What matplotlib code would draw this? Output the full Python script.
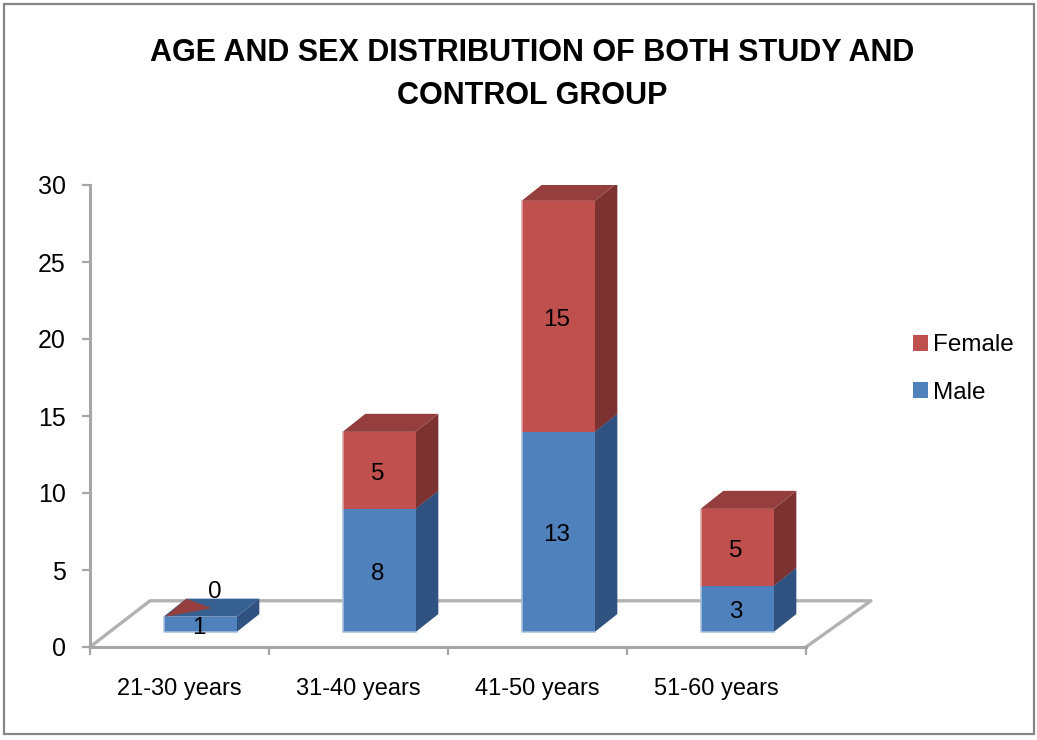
import matplotlib.pyplot as plt
from matplotlib.lines import Line2D
from matplotlib.patches import Patch, Polygon, Rectangle

plt.rcParams["font.family"] = ["Liberation Sans", "DejaVu Sans"]

age_groups = ["21-30 years", "31-40 years", "41-50 years", "51-60 years"]
male = [1, 8, 13, 3]
female = [0, 5, 15, 5]
y_ticks = [0, 5, 10, 15, 20, 25, 30]
title = "AGE AND SEX DISTRIBUTION OF BOTH STUDY AND\nCONTROL GROUP"

W, H = 1037, 740
GRID = "#A6A6A6"
TEXT = "#000000"
BLUE = ("#4F81BD", "#2F5280", "#376092", "#A9C1DE")
RED = ("#C0504D", "#7C3231", "#943F3E", "#DDA9A7")

# fake 3d: how far the bars and floor are pushed back, in data units
BAR_W = 0.408
FRONT_DX, FRONT_DY = 0.115, 0.97
DEPTH_DX, DEPTH_DY = 0.127, 1.17
FLOOR_LEFT_DX, FLOOR_RIGHT_DX, FLOOR_DY = 0.335, 0.363, 3.0


def draw_block(ax, xc, bottom, height, colors, z, top_block):
    x0 = xc + FRONT_DX - BAR_W / 2
    x1 = x0 + BAR_W
    y0 = bottom + FRONT_DY
    y1 = y0 + height
    side = [(x1, y0), (x1 + DEPTH_DX, y0 + DEPTH_DY), (x1 + DEPTH_DX, y1 + DEPTH_DY), (x1, y1)]
    top = [(x0, y1), (x1, y1), (x1 + DEPTH_DX, y1 + DEPTH_DY), (x0 + DEPTH_DX, y1 + DEPTH_DY)]
    ax.add_patch(Polygon(side, fc=colors[1], ec="none", zorder=z))
    ax.add_patch(Polygon(top, fc=colors[2], ec="none", zorder=z + 0.1))
    ax.add_patch(Rectangle((x0, y0), BAR_W, height, fc=colors[0], ec="none", zorder=z + 0.2))
    # pale rim along the outer edges of the stack
    if top_block:
        ax.plot([x0, x0], [y0, y1], color=colors[3], lw=1.1, zorder=z + 0.3)
    else:
        ax.plot([x0, x0, x1], [y1, y0, y0], color=colors[3], lw=1.1, zorder=z + 0.3)
    return x0, x1, y1


def value_label(ax, x, y, value):
    ax.annotate(str(value), (x, y), xytext=(-1, -2.5), textcoords="offset points", ha="center",
                va="center", fontsize=17.5, color=TEXT, zorder=6)


fig = plt.figure(figsize=(W / 100, H / 100), dpi=100)
fig.patch.set_facecolor("white")
fig.add_artist(Rectangle((3.5 / W, 1 - 733.5 / H), 1030 / W, 729.5 / H, transform=fig.transFigure,
                         fill=False, ec="#868686", lw=1.6))

ax = fig.add_axes([90 / W, 1 - 647 / H, 716 / W, 462 / H])
ax.set_xlim(0, 4)
ax.set_ylim(0, 30)
ax.patch.set_alpha(0)

for name in ("top", "right"):
    ax.spines[name].set_visible(False)
for name in ("left", "bottom"):
    ax.spines[name].set_color(GRID)
    ax.spines[name].set_linewidth(2.2)

ax.set_yticks(y_ticks)
ax.set_xticks(range(5))
ax.set_xticklabels([])
ax.tick_params(axis="both", color=GRID, width=1.6, length=6)
ax.tick_params(axis="y", labelsize=18, pad=11.5, labelcolor=TEXT)

for i, name in enumerate(age_groups):
    ax.annotate(name, (i + 0.5, 0), xytext=(0, -30), textcoords="offset points",
                ha="center", va="center", fontsize=17, color=TEXT)

# floor outline
floor_x = [0, FLOOR_LEFT_DX, 4 + FLOOR_RIGHT_DX, 4]
floor_y = [0, FLOOR_DY, FLOOR_DY, 0]
ax.add_line(Line2D(floor_x, floor_y, color="#B2B2B2", lw=2.4, clip_on=False, zorder=1))

for i in range(len(age_groups)):
    xc = i + 0.5
    x0, x1, y1 = draw_block(ax, xc, 0, male[i], BLUE, 2, False)
    mid = (x0 + x1) / 2
    value_label(ax, mid, FRONT_DY + male[i] / 2, male[i])
    if female[i] > 0:
        draw_block(ax, xc, male[i], female[i], RED, 3, True)
        value_label(ax, mid, FRONT_DY + male[i] + female[i] / 2, female[i])
    else:
        # empty segment: only a sliver of red shows on the block top
        sliver = [(x0 + 0.01, y1), (x0 + DEPTH_DX, y1 + DEPTH_DY),
                  (x0 + 0.27, y1 + 0.55)]
        ax.add_patch(Polygon(sliver, fc=RED[2], ec="none", zorder=4))
        ax.annotate(str(female[i]), (mid, y1), xytext=(10.5, 18), textcoords="offset points",
                    ha="center", va="center", fontsize=17.5, color=TEXT, zorder=6)

fig.text(532 / W, 1 - 74.5 / H, title, ha="center", va="center", fontsize=22, fontweight="bold",
         color=TEXT, linespacing=1.6)

handles = [Patch(fc=RED[0], ec="none"), Patch(fc=BLUE[0], ec="none")]
fig.legend(handles, ["Female", "Male"], loc="center left", bbox_to_anchor=(901 / W, 1 - 369 / H),
           frameon=False, fontsize=17.5, handlelength=0.62, handleheight=0.62, handletextpad=0.2,
           labelspacing=1.05, borderpad=0, borderaxespad=0.5)

fig.savefig("out.png", dpi=100)
